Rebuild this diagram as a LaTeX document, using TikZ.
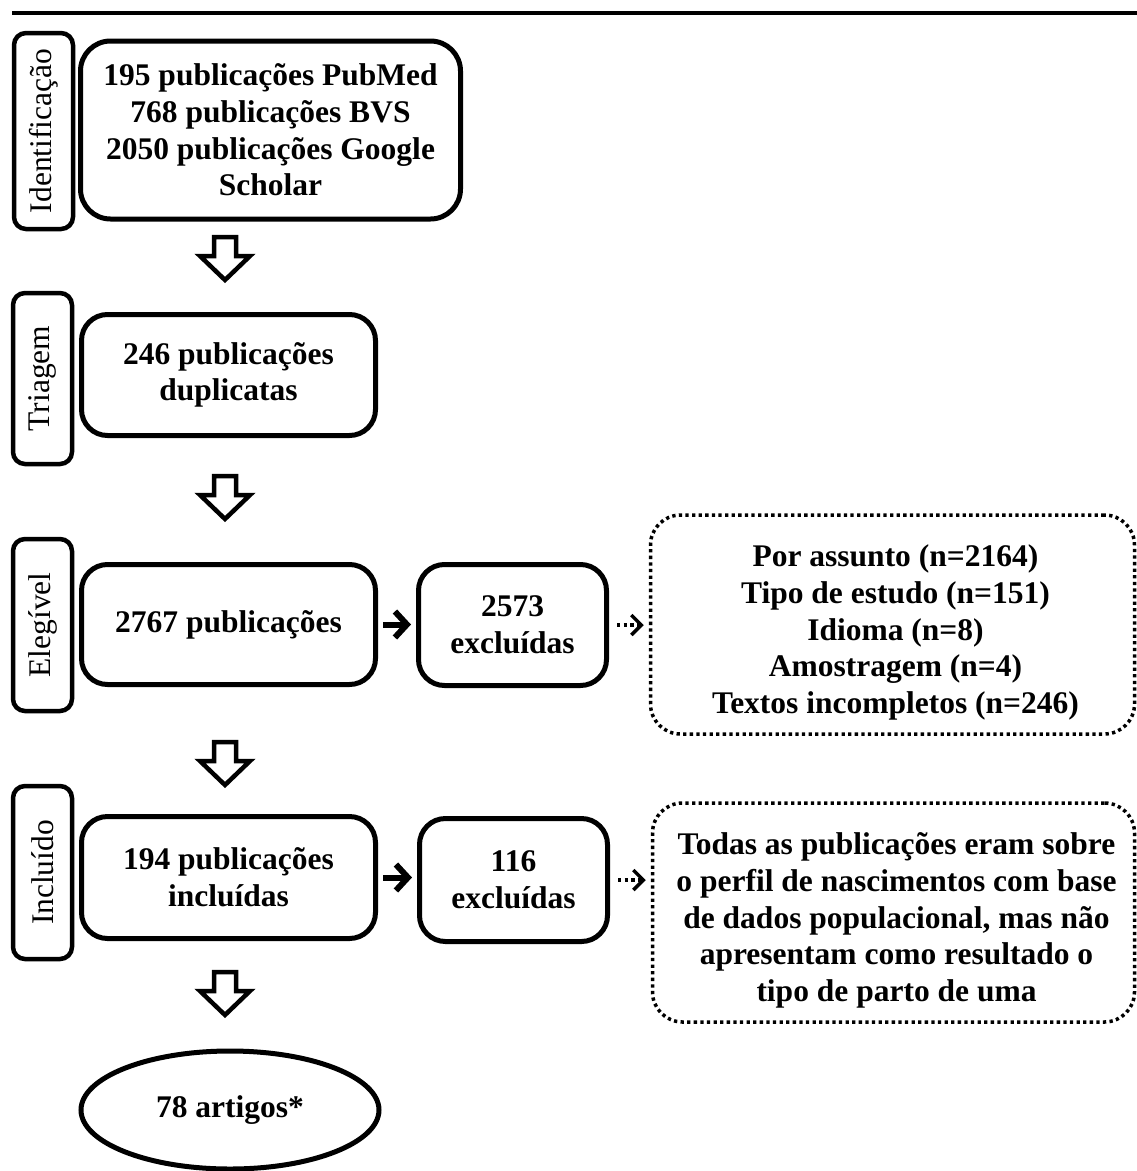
\documentclass[tikz,border=0pt]{standalone}
\usepackage{fontspec}
\setmainfont{Liberation Serif}
\usetikzlibrary{arrows.meta,shapes.geometric,calc}
\begin{document}
\begin{tikzpicture}[x=1pt,y=-1pt,
  txt/.style={font=\fontsize{31.5}{36.7}\selectfont\bfseries, align=center, inner sep=0pt},
  mainbox/.style={txt, draw, line width=5, rounded corners=26},
  stagebox/.style={draw, line width=4.5, rounded corners=12, inner sep=0pt, rotate=90,
     minimum height=59, font=\fontsize{31.5}{36.7}\selectfont},
  notebox/.style={draw, line width=3.5, dash pattern=on 3.3 off 3.3, rounded corners=30, inner sep=0pt},
  solidarr/.style={line width=6, -{Straight Barb[length=12,width=26]}, shorten <=5, shorten >=5},
  dotarr/.style={line width=3.5, dash pattern=on 3.3 off 3.3, -{Straight Barb[length=10,width=20]}, shorten <=8, shorten >=5},
  hollowdown/.pic={\draw[line width=4.5, line join=miter, fill=white]
     (-11,0) -- (11,0) -- (11,19) -- (25,19) -- (0,43) -- (-25,19) -- (-11,19) -- cycle;}
]
\useasboundingbox (0,0) rectangle (1137,1171);

% top rule
\coordinate (ruleL) at (12,12.5);
\coordinate (ruleR) at (1137,12.5);
\draw[line width=4] (ruleL) -- (ruleR);

% stage labels
\node[stagebox, minimum width=196] (L1) at (43.5,131) {Identificação};
\node[stagebox, minimum width=171] (L2) at (42.5,378.5) {Triagem};
\node[stagebox, minimum width=172] (L3) at (42.5,625) {Elegível};
\node[stagebox, minimum width=173] (L4) at (42.5,872.5) {Incluído};

% main boxes
\node[mainbox, rounded corners=30, minimum width=380, minimum height=178] (b1) at (270.5,130)
  {195 publicações PubMed\\768 publicações BVS\\2050 publicações Google\\Scholar};
\node[mainbox, minimum width=294, minimum height=121] (b2) at (228.5,375)
  {246 publicações\\duplicatas};
\node[mainbox, minimum width=294, minimum height=120] (b3) at (228.5,624.5)
  {2767 publicações};
\node[mainbox, minimum width=294, minimum height=122] (b4) at (228.5,877.5)
  {194 publicações\\incluídas};
\node[mainbox, minimum width=188, minimum height=121] (ex1) at (512.5,625)
  {2573\\excluídas};
\node[mainbox, minimum width=188, minimum height=123] (ex2) at (513.5,880)
  {116\\excluídas};

% notes
\node[notebox, minimum width=484, minimum height=219] (n1) at (892.5,624.5) {};
\node[txt] (n1t) at ($(n1.center)+(3,8)$)
  {Por assunto (n=2164)\\Tipo de estudo (n=151)\\Idioma (n=8)\\Amostragem (n=4)\\Textos incompletos (n=246)};
\node[notebox, minimum width=482, minimum height=219] (n2) at (893.5,912.5) {};
\node[txt] (n2t) at ($(n2.center)+(3,8)$)
  {Todas as publicações eram sobre\\o perfil de nascimentos com base\\de dados populacional, mas não\\apresentam como resultado o\\tipo de parto de uma};

% final ellipse
\node[txt, draw, ellipse, line width=5, minimum width=298, minimum height=118] (fin) at (230,1110) {78 artigos*};

% hollow arrows between stages
\pic at (225,237) {hollowdown};
\pic at (225,476) {hollowdown};
\pic at (225,742) {hollowdown};
\pic at (225,972) {hollowdown};

% side connectors
\draw[solidarr] (b3.east) -- (b3.east -| ex1.west);
\draw[solidarr] (b4.east) -- (b4.east -| ex2.west);
\draw[dotarr] (ex1.east) -- (ex1.east -| n1.west);
\draw[dotarr] (ex2.east) -- (ex2.east -| n2.west);
\end{tikzpicture}
\end{document}
